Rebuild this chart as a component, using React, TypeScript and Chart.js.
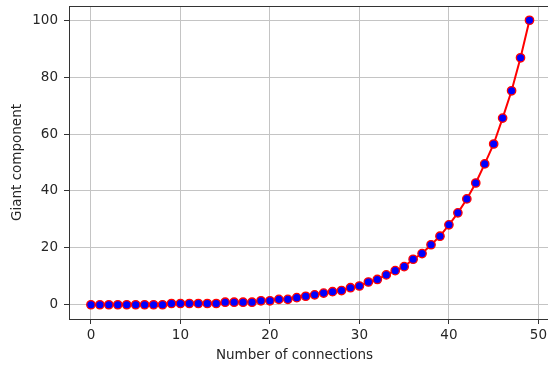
import React, { useEffect, useRef } from "react";
import { Chart, registerables } from "chart.js";

Chart.register(...registerables);

const connections = [
  0, 1, 2, 3, 4, 5, 6, 7, 8, 9,
  10, 11, 12, 13, 14, 15, 16, 17, 18, 19,
  20, 21, 22, 23, 24, 25, 26, 27, 28, 29,
  30, 31, 32, 33, 34, 35, 36, 37, 38, 39,
  40, 41, 42, 43, 44, 45, 46, 47, 48, 49,
];
const giantComponent = [
  0, 0, 0, 0, 0, 0, 0, 0, 0, 0.45,
  0.45, 0.45, 0.45, 0.45, 0.45, 0.9, 0.9, 0.9, 0.9, 1.4,
  1.4, 1.9, 1.9, 2.5, 3.0, 3.5, 4.1, 4.6, 5.0, 6.0,
  6.6, 8.0, 8.9, 10.5, 12.0, 13.4, 16.0, 18.0, 21.1, 24.1,
  28.1, 32.3, 37.2, 42.8, 49.5, 56.5, 65.6, 75.2, 86.8, 100,
];
const xTicks = [0, 10, 20, 30, 40, 50];
const yTicks = [0, 20, 40, 60, 80, 100];
const xLabel = "Number of connections";
const yLabel = "Giant component";

const FONT = "'DejaVu Sans', sans-serif";
const TEXT = "#262626";

export default function App() {
  const ref = useRef<HTMLCanvasElement | null>(null);

  useEffect(() => {
    document.body.style.margin = "0";
    const canvas = ref.current;
    if (!canvas) return;

    const frame = {
      id: "frame",
      afterDatasetsDraw(chart: any) {
        const { ctx, chartArea } = chart;
        ctx.save();
        ctx.strokeStyle = "#333";
        ctx.lineWidth = 1;
        ctx.beginPath();
        ctx.moveTo(chartArea.left, chartArea.top + 0.5);
        ctx.lineTo(chartArea.right, chartArea.top + 0.5);
        ctx.stroke();
        ctx.restore();
      },
      afterDraw(chart: any) {
        const { ctx } = chart;
        ctx.save();
        ctx.fillStyle = TEXT;
        ctx.font = `13.5px ${FONT}`;
        ctx.textAlign = "center";
        ctx.textBaseline = "middle";
        ctx.fillText(xLabel, 294.5, 355);
        ctx.restore();
      },
    };

    const chart = new Chart(canvas, {
      type: "line",
      data: {
        datasets: [
          {
            data: connections.map((x, i) => ({ x, y: giantComponent[i] })),
            borderColor: "#ff0000",
            borderWidth: 2,
            pointRadius: 4.2,
            pointBorderWidth: 1.3,
            pointBorderColor: "#ff0000",
            pointBackgroundColor: "#0000ff",
            tension: 0,
            clip: 6,
          },
        ],
      },
      options: {
        animation: false,
        responsive: false,
        devicePixelRatio: 1,
        layout: { autoPadding: false, padding: { top: 6, right: 0, left: 0, bottom: 0 } },
        plugins: { legend: { display: false }, tooltip: { enabled: false } },
        scales: {
          x: {
            type: "linear",
            min: -2.45,
            max: 51.07,
            afterBuildTicks: (s: any) => {
              s.ticks = xTicks.map((v) => ({ value: v }));
            },
            afterFit: (s: any) => {
              s.height = 48;
              s.paddingLeft = 0;
              s.paddingRight = 0;
            },
            grid: {
              color: "#c4c4c4",
              lineWidth: 1,
              drawTicks: true,
              tickLength: 5,
              tickColor: "#333",
              tickWidth: 1,
            },
            border: { display: true, color: "#333", width: 1 },
            ticks: {
              font: { family: FONT, size: 13.5 },
              color: TEXT,
              padding: 3,
              maxRotation: 0,
            },
          },
          y: {
            type: "linear",
            min: -5,
            max: 105,
            afterBuildTicks: (s: any) => {
              s.ticks = yTicks.map((v) => ({ value: v }));
            },
            afterFit: (s: any) => {
              s.width = 69;
              s.paddingTop = 0;
              s.paddingBottom = 0;
            },
            grid: {
              color: "#c4c4c4",
              lineWidth: 1,
              drawTicks: true,
              tickLength: 5,
              tickColor: "#333",
              tickWidth: 1,
            },
            border: { display: true, color: "#333", width: 1 },
            ticks: {
              font: { family: FONT, size: 13.5 },
              color: TEXT,
              padding: 6,
            },
            title: {
              display: true,
              text: yLabel,
              font: { family: FONT, size: 13.5 },
              color: TEXT,
              padding: { top: 9, bottom: 0 },
            },
          },
        },
      },
      plugins: [frame],
    });

    return () => chart.destroy();
  }, []);

  return (
    <div
      style={{
        position: "fixed",
        left: 0,
        top: 0,
        width: 548,
        height: 367,
        overflow: "hidden",
        background: "#fff",
      }}
    >
      <canvas ref={ref} width={548} height={367} style={{ display: "block" }} />
    </div>
  );
}
